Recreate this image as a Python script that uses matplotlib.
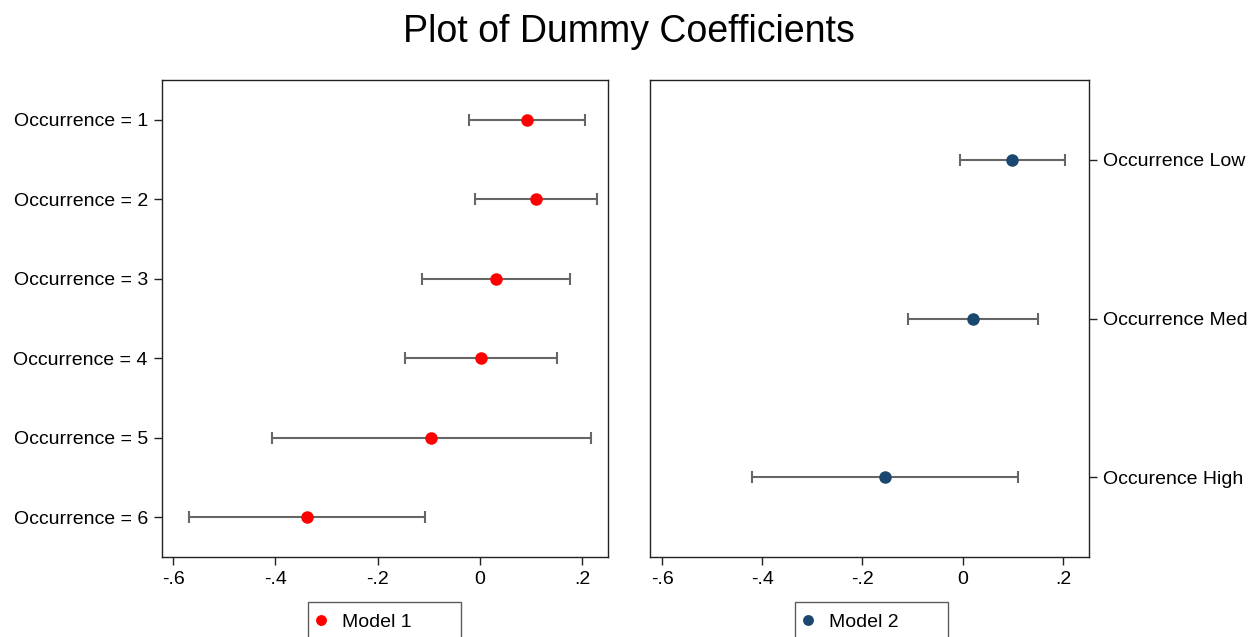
import matplotlib.pyplot as plt

plt.rcParams['font.family'] = ['Liberation Sans', 'DejaVu Sans']

# Model 1 coefficients with confidence intervals
m1_labels = ["Occurrence = 1", "Occurrence = 2", "Occurrence = 3",
             "Occurrence = 4", "Occurrence = 5", "Occurrence = 6"]
m1_coef = [0.091, 0.110, 0.031, 0.001, -0.095, -0.338]
m1_lo = [-0.022, -0.009, -0.114, -0.147, -0.407, -0.568]
m1_hi = [0.205, 0.228, 0.175, 0.150, 0.216, -0.107]

# Model 2 coefficients with confidence intervals
m2_labels = ["Occurrence Low", "Occurrence Med", "Occurence High"]
m2_coef = [0.099, 0.020, -0.155]
m2_lo = [-0.005, -0.110, -0.420]
m2_hi = [0.204, 0.150, 0.111]

x_ticks = [-0.6, -0.4, -0.2, 0.0, 0.2]
x_ticklabels = ["-.6", "-.4", "-.2", "0", ".2"]

RED = '#ff0000'
NAVY = '#1a476f'
CI_GRAY = '#666666'
SPINE = '#222222'

fig = plt.figure(figsize=(12.51, 6.37), dpi=100)
ax1 = fig.add_axes([0.1293, 0.1256, 0.3567, 0.7488])
ax2 = fig.add_axes([0.5196, 0.1256, 0.3511, 0.7488])


def draw_panel(ax, labels, coef, lo, hi, color, name, xlim):
    pos = list(range(1, len(labels) + 1))
    err = [[c - l for c, l in zip(coef, lo)], [h - c for c, h in zip(coef, hi)]]
    ax.errorbar(coef, pos, xerr=err, fmt='none', ecolor=CI_GRAY, elinewidth=1.5,
                capsize=4, capthick=1.5, zorder=2)
    ax.plot(coef, pos, 'o', color=color, markersize=8, label=name, zorder=3,
            linestyle='none')
    ax.set_yticks(pos)
    ax.set_yticklabels(labels)
    ax.set_ylim(len(labels) + 0.5, 0.5)
    ax.set_xlim(*xlim)
    ax.set_xticks(x_ticks)
    ax.set_xticklabels(x_ticklabels)
    for s in ax.spines.values():
        s.set_color(SPINE)
        s.set_linewidth(1.0)
    ax.tick_params(axis='both', labelsize=14, length=6, width=1.0,
                   color=SPINE, pad=4)


draw_panel(ax1, m1_labels, m1_coef, m1_lo, m1_hi, RED, "Model 1", (-0.622, 0.250))
draw_panel(ax2, m2_labels, m2_coef, m2_lo, m2_hi, NAVY, "Model 2", (-0.624, 0.2526))
ax2.yaxis.tick_right()

fig.text(0.5028, 0.95, "Plot of Dummy Coefficients", ha='center', va='center', fontsize=27)

# legends below each panel, box cut off at the bottom edge
for ax, x0 in [(ax1, 308), (ax2, 795)]:
    leg = ax.legend(loc='upper left', bbox_to_anchor=(x0 / 1251, 1 - 602 / 637, 153 / 1251, 0),
                    bbox_transform=fig.transFigure, mode='expand', borderaxespad=0,
                    fontsize=14, fancybox=False, handlelength=0.15, handletextpad=1.0,
                    borderpad=0.6, markerscale=0.85)
    leg.get_frame().set_edgecolor('#333333')
    leg.get_frame().set_linewidth(1.0)

fig.savefig('out.png', dpi=100)
